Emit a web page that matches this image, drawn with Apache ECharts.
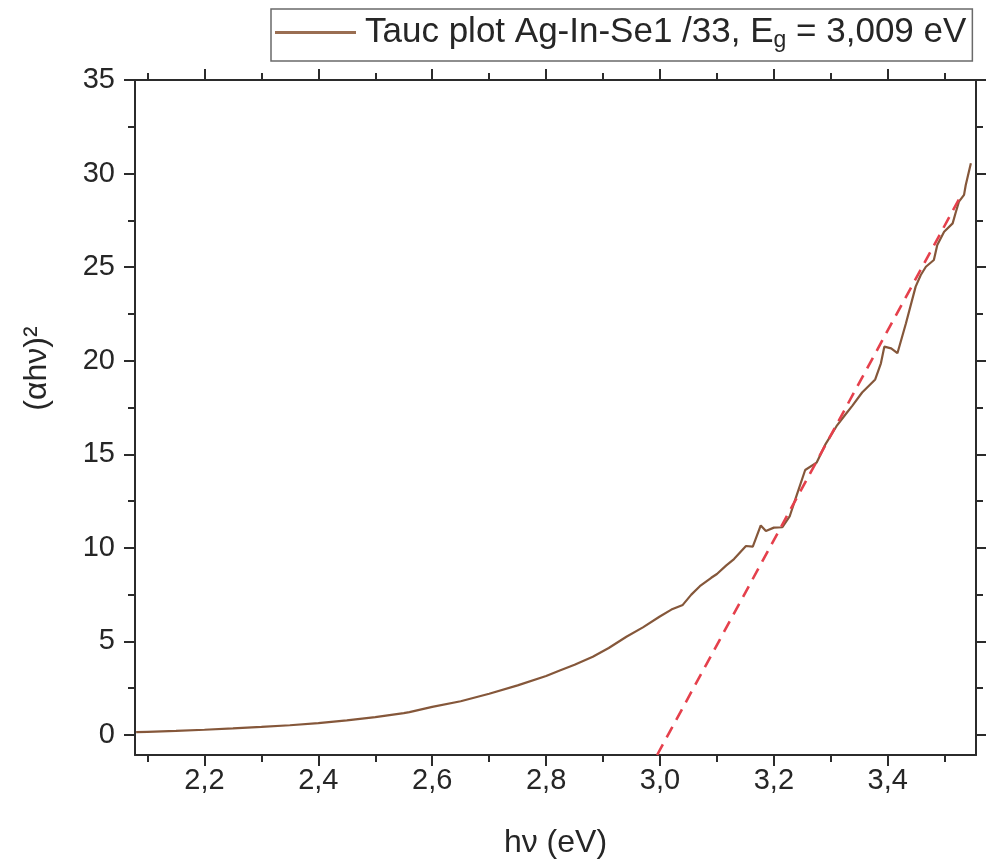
<!DOCTYPE html>
<html>
<head>
<meta charset="utf-8">
<title>Tauc plot</title>
<script src="https://cdn.jsdelivr.net/npm/echarts@6/dist/echarts.min.js"></script>
<style>
  html, body { margin: 0; padding: 0; background: #fff; }
  #chart { width: 986px; height: 868px; }
</style>
</head>
<body>
<div id="chart"></div>
<script>
// Photon energy hν (eV) and Tauc ordinate (αhν)²
const hv = [
  2.080, 2.100, 2.150, 2.200, 2.250, 2.300, 2.350, 2.400, 2.450, 2.500,
  2.550, 2.560, 2.600, 2.650, 2.700, 2.750, 2.800, 2.824, 2.850, 2.882,
  2.910, 2.941, 2.970, 2.999, 3.020, 3.040, 3.055, 3.070, 3.090, 3.100,
  3.116, 3.130, 3.151, 3.163, 3.177, 3.186, 3.200, 3.215, 3.228, 3.240,
  3.255, 3.275, 3.290, 3.310, 3.325, 3.338, 3.355, 3.378, 3.388, 3.394,
  3.406, 3.417, 3.432, 3.449, 3.458, 3.467, 3.481, 3.487, 3.499, 3.514,
  3.519, 3.525, 3.534, 3.537, 3.546
];
const ahv2 = [
  0.15, 0.17, 0.22, 0.28, 0.35, 0.43, 0.52, 0.63, 0.78, 0.95,
  1.17, 1.22, 1.50, 1.80, 2.20, 2.65, 3.15, 3.45, 3.75, 4.18,
  4.65, 5.25, 5.75, 6.32, 6.70, 6.95, 7.50, 7.95, 8.40, 8.60,
  9.05, 9.40, 10.10, 10.06, 11.20, 10.90, 11.08, 11.10, 11.70, 12.80,
  14.16, 14.55, 15.50, 16.50, 17.10, 17.60, 18.30, 19.00, 19.86, 20.75,
  20.66, 20.40, 22.00, 23.96, 24.58, 25.02, 25.38, 26.18, 26.89, 27.34,
  27.88, 28.50, 28.86, 29.39, 30.55
];

// Linear fit of the absorption edge
const fitHv = [2.995, 3.530];
const fitY = [-1.07, 28.90];

// Axis ticks
const xMajor = [2.2, 2.4, 2.6, 2.8, 3.0, 3.2, 3.4];
const xMinor = [2.1, 2.3, 2.5, 2.7, 2.9, 3.1, 3.3, 3.5];
const yMajor = [0, 5, 10, 15, 20, 25, 30, 35];
const yMinor = [2.5, 7.5, 12.5, 17.5, 22.5, 27.5, 32.5];

const seriesName = 'Tauc plot Ag-In-Se1 /33, Eg = 3,009 eV';

const X_MIN = 2.078, X_MAX = 3.555;
const Y_MIN = -1.07, Y_MAX = 35;

const FONT = "'Liberation Sans', Arial, sans-serif";
const AXIS_COLOR = '#2b2b2b';
const TXT = '#262626';

function xAxisDef(position, ticks, len, showLine, showLabel) {
  return {
    type: 'value', position: position, min: X_MIN, max: X_MAX,
    splitLine: { show: false },
    axisLine: { show: showLine, onZero: false, lineStyle: { color: AXIS_COLOR, width: 2 } },
    axisTick: { show: true, inside: false, length: len, customValues: ticks,
                lineStyle: { color: AXIS_COLOR, width: 2 } },
    axisLabel: { show: showLabel, customValues: ticks, margin: 11,
                 fontFamily: FONT, fontSize: 29, color: TXT,
                 formatter: v => v.toFixed(1).replace('.', ',') }
  };
}
function yAxisDef(position, ticks, len, showLine, showLabel) {
  return {
    type: 'value', position: position, min: Y_MIN, max: Y_MAX,
    splitLine: { show: false },
    axisLine: { show: showLine, onZero: false, lineStyle: { color: AXIS_COLOR, width: 2 } },
    axisTick: { show: true, inside: false, length: len, customValues: ticks,
                lineStyle: { color: AXIS_COLOR, width: 2 } },
    axisLabel: { show: showLabel, customValues: ticks, margin: 20,
                 fontFamily: FONT, fontSize: 29, color: TXT }
  };
}

const xAxes = [
  xAxisDef('bottom', xMajor, 11, true, true),
  xAxisDef('bottom', xMinor, 7, false, false),
  xAxisDef('top', xMajor, 11, true, false),
  xAxisDef('top', xMinor, 7, false, false)
];
xAxes[0].name = 'hν (eV)';
xAxes[0].nameLocation = 'middle';
xAxes[0].nameGap = 72;
xAxes[0].nameTextStyle = { fontFamily: FONT, fontSize: 32, color: TXT };

const yAxes = [
  yAxisDef('left', yMajor, 11, true, true),
  yAxisDef('left', yMinor, 7, false, false),
  yAxisDef('right', yMajor, 11, true, false),
  yAxisDef('right', yMinor, 7, false, false)
];
yAxes[0].name = '(αhν)²';
yAxes[0].nameLocation = 'middle';
yAxes[0].nameRotate = 90;
yAxes[0].nameGap = 82;
yAxes[0].nameTextStyle = { fontFamily: FONT, fontSize: 32, color: TXT, padding: [0, 0, 0, 98] };

const chart = echarts.init(document.getElementById('chart'), null, { renderer: 'canvas' });
chart.setOption({
  animation: false,
  backgroundColor: '#ffffff',
  grid: { left: 135, right: 10, top: 80, bottom: 113, containLabel: false },
  legend: {
    data: [seriesName],
    left: 271, top: 9,
    padding: [6, 6, 9, 4],
    borderColor: '#6a6a6a', borderWidth: 1.5,
    icon: 'rect',
    itemWidth: 81, itemHeight: 3,
    formatter: () => 'Tauc plot Ag-In-Se1 /33, E{sub|g} = 3,009 eV',
    textStyle: {
      fontFamily: FONT, fontSize: 35, color: TXT, padding: [0, 0, 0, 4],
      rich: { sub: { fontFamily: FONT, fontSize: 23, color: TXT, padding: [16, 0, 0, 0] } }
    }
  },
  xAxis: xAxes,
  yAxis: yAxes,
  series: [
    {
      name: seriesName, type: 'line', xAxisIndex: 0, yAxisIndex: 0,
      data: hv.map((x, i) => [x, ahv2[i]]),
      symbol: 'none', smooth: false,
      lineStyle: { color: '#85573a', width: 2.2 },
      itemStyle: { color: '#9a6e52' },
      z: 2
    },
    {
      name: 'fit', type: 'line', xAxisIndex: 0, yAxisIndex: 0,
      data: fitHv.map((x, i) => [x, fitY[i]]),
      symbol: 'none',
      lineStyle: { color: '#e5404c', width: 2.6, type: [12, 8] },
      z: 3
    }
  ]
});
</script>
</body>
</html>
